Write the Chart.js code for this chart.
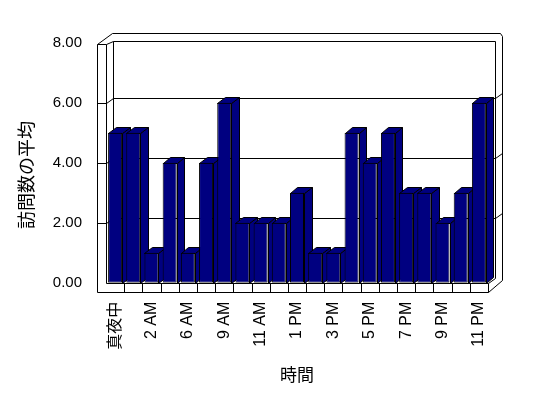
<!DOCTYPE html>
<html>
<head>
<meta charset="utf-8">
<script src="https://cdn.jsdelivr.net/npm/chart.js@4.4.1/dist/chart.umd.min.js"></script>
<style>
  html, body { margin: 0; padding: 0; background: #fff; }
  canvas { display: block; }
</style>
</head>
<body>
<canvas id="visitsChart" width="548" height="398"></canvas>
<script>
// hours (only every other one is labelled on the axis)
const hourLabels = ['真夜中', '1 AM', '2 AM', '5 AM', '6 AM', '8 AM', '9 AM', '10 AM', '11 AM', '正午',
                    '1 PM', '2 PM', '3 PM', '4 PM', '5 PM', '6 PM', '7 PM', '8 PM', '9 PM', '10 PM', '11 PM'];
const avgVisits = [5, 5, 1, 4, 1, 4, 6, 2, 2, 2, 3, 1, 1, 5, 4, 5, 3, 3, 2, 3, 6];
const yTickValues = [0, 2, 4, 6, 8];
const yAxisTitle = '訪問数の平均';
const xAxisTitle = '時間';

const barFill = '#000080';
const lineColor = '#000000';
const fontFamily = "'Liberation Sans', 'Noto Sans CJK JP', sans-serif";

// offsets used for the fake 3D box
const wallDx = 6.7, wallDy = -4.6;
const barDx = 7.5, barDy = -6;
const wallThick = 9, floorThick = 9.3;

function px(v) { return Math.round(v) + 0.5; }

function line(ctx, x1, y1, x2, y2) {
    ctx.beginPath();
    ctx.moveTo(px(x1), px(y1));
    ctx.lineTo(px(x2), px(y2));
    ctx.stroke();
}

function poly(ctx, pts) {
    ctx.beginPath();
    pts.forEach((p, i) => {
        if (i === 0) ctx.moveTo(px(p[0]), px(p[1]));
        else ctx.lineTo(px(p[0]), px(p[1]));
    });
    ctx.closePath();
    ctx.fill();
    ctx.stroke();
}

const box3d = {
    id: 'box3d',
    beforeDatasetsDraw(chart) {
        const ctx = chart.ctx;
        const a = chart.chartArea;
        const ys = chart.scales.y;
        const L = a.left, R = a.right, T = a.top, B = a.bottom;
        const n = hourLabels.length;

        ctx.save();
        ctx.strokeStyle = lineColor;
        ctx.lineWidth = 1;

        // left wall
        line(ctx, L - wallThick, T + 1.3, L - wallThick, B + floorThick);
        line(ctx, L, T + 1.3, L, B);
        line(ctx, L - wallThick, T + 1.3, L, T + 1.3);
        line(ctx, L, T + 1.3, L + wallDx, T - 2);
        line(ctx, L - wallThick, T + 1.3, L + 5.7, T - 10);

        // back wall
        line(ctx, L + wallDx, T - 2, L + wallDx, B + wallDy);
        line(ctx, L + wallDx, T - 2, R + wallDx, T - 2);
        line(ctx, L + 5.7, T - 10, R + wallDx + 5, T - 10);
        line(ctx, R + wallDx + 5, T - 10, R + wallDx + 7, T - 7);
        line(ctx, R + wallDx, T - 2, R + wallDx, B + wallDy);
        line(ctx, R + wallDx + 7, T - 7, R + wallDx + 7, B - 3);

        // gridlines on the walls
        yTickValues.forEach(v => {
            if (v === ys.min || v === ys.max) return;
            const y = ys.getPixelForValue(v);
            const yb = y + wallDy;
            line(ctx, L - wallThick, y, L, y);
            line(ctx, L, y, L + wallDx, yb);
            line(ctx, L + wallDx, yb, R + wallDx, yb);
            line(ctx, R + wallDx, yb, R + wallDx + 7, yb - 5);
        });

        // floor
        line(ctx, L, B, R, B);
        line(ctx, L - wallThick, B + floorThick, R, B + floorThick);
        line(ctx, R, B, R, B + floorThick);
        line(ctx, R, B + floorThick, R + wallDx + 7, B - 3);
        line(ctx, R, B, R + wallDx, B + wallDy);
        for (let i = 1; i < n; i++) {
            const x = L + i * (R - L) / n;
            line(ctx, x, B, x, B + floorThick);
        }

        // top and side faces of the columns
        ctx.fillStyle = barFill;
        const meta = chart.getDatasetMeta(0);
        meta.data.forEach(bar => {
            const p = bar.getProps(['x', 'y', 'base', 'width'], true);
            const x0 = p.x - p.width / 2, x1 = p.x + p.width / 2;
            poly(ctx, [[x1, p.y], [x1 + barDx, p.y + barDy], [x1 + barDx, p.base + barDy], [x1, p.base]]);
            poly(ctx, [[x0, p.y], [x0 + barDx, p.y + barDy], [x1 + barDx, p.y + barDy], [x1, p.y]]);
        });
        ctx.restore();
    },
    afterDraw(chart) {
        // y title sits centred on the whole frame, not just the axis
        const ctx = chart.ctx;
        ctx.save();
        ctx.fillStyle = '#000';
        ctx.font = '18px ' + fontFamily;
        ctx.textAlign = 'center';
        ctx.textBaseline = 'middle';
        ctx.translate(28, 175);
        ctx.rotate(-Math.PI / 2);
        ctx.fillText(yAxisTitle, 0, 0);
        ctx.restore();
    }
};

new Chart(document.getElementById('visitsChart'), {
    type: 'bar',
    data: {
        labels: hourLabels,
        datasets: [{
            data: avgVisits,
            backgroundColor: barFill,
            borderColor: lineColor,
            borderWidth: 1,
            borderSkipped: false,
            barPercentage: 0.77,
            categoryPercentage: 1
        }]
    },
    options: {
        responsive: false,
        animation: false,
        devicePixelRatio: 1,
        layout: { padding: { top: 42.7, right: 60, bottom: 0, left: 0 } },
        plugins: { legend: { display: false }, tooltip: { enabled: false } },
        scales: {
            x: {
                grid: { display: false, drawTicks: false },
                border: { display: false },
                ticks: {
                    autoSkip: false,
                    minRotation: 90,
                    maxRotation: 90,
                    padding: 19,
                    color: '#000',
                    font: { family: fontFamily, size: 16 },
                    callback: function(val, idx) {
                        return idx % 2 === 0 ? this.getLabelForValue(val) : '';
                    }
                },
                title: {
                    display: true,
                    text: xAxisTitle,
                    color: '#000',
                    font: { family: fontFamily, size: 17 },
                    padding: { top: 0, bottom: 11 }
                },
                afterFit: scale => { scale.height = 115.3; }
            },
            y: {
                min: yTickValues[0],
                max: yTickValues[yTickValues.length - 1],
                grid: { display: false, drawTicks: false },
                border: { display: false },
                afterBuildTicks: scale => {
                    scale.ticks = yTickValues.map(v => ({ value: v }));
                },
                ticks: {
                    padding: 24,
                    color: '#000',
                    font: { family: fontFamily, size: 15 },
                    callback: v => v.toFixed(2)
                },
                afterFit: scale => { scale.width = 106; }
            }
        }
    },
    plugins: [box3d]
});
</script>
</body>
</html>
